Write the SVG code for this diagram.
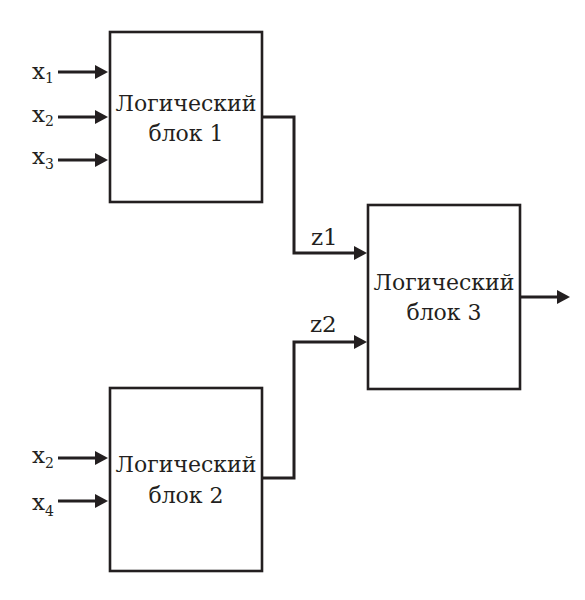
<svg xmlns="http://www.w3.org/2000/svg" width="585" height="600" viewBox="0 0 585 600">
<style>
.blk{fill:#fff;stroke:#231f20;stroke-width:2.6}
.t{font-family:'DejaVu Serif','Noto Serif','Liberation Serif',serif;font-size:22px;fill:#231f20;text-anchor:middle}
.l{font-family:'DejaVu Serif','Noto Serif','Liberation Serif',serif;font-size:23px;fill:#231f20}
.s{font-size:14px}
.c{fill:none;stroke:#231f20;stroke-width:3}
</style>
<defs>
<marker id="ah" markerUnits="userSpaceOnUse" viewBox="0 0 13 14" refX="5" refY="7" markerWidth="13" markerHeight="14" orient="auto">
<path d="M0,0 L13,7 L0,14 z" fill="#231f20"/>
</marker>
</defs>
<rect width="585" height="600" fill="#fff"/>
<g id="connectors">
<path class="c" d="M58,72 H100" marker-end="url(#ah)"/>
<path class="c" d="M58,117 H100" marker-end="url(#ah)"/>
<path class="c" d="M58,160 H100" marker-end="url(#ah)"/>
<path class="c" d="M58,458 H100" marker-end="url(#ah)"/>
<path class="c" d="M58,501 H100" marker-end="url(#ah)"/>
<path class="c" d="M262,117 H294 V253 H359" marker-end="url(#ah)"/>
<path class="c" d="M262,478 H294 V342 H359" marker-end="url(#ah)"/>
<path class="c" d="M520,297 H562" marker-end="url(#ah)"/>
<text class="l" x="311" y="245">z1</text>
<text class="l" x="310" y="332">z2</text>
</g>
<g id="inputs">
<text class="l" x="32" y="79">x<tspan class="s" y="83">1</tspan></text>
<text class="l" x="32" y="122">x<tspan class="s" y="126">2</tspan></text>
<text class="l" x="32" y="164">x<tspan class="s" y="169">3</tspan></text>
<text class="l" x="32" y="463">x<tspan class="s" y="468">2</tspan></text>
<text class="l" x="32" y="510">x<tspan class="s" y="516">4</tspan></text>
</g>
<g id="block1">
<rect class="blk" x="110" y="32" width="152" height="170"/>
<text class="t" x="186" y="111">Логический</text>
<text class="t" x="186" y="141">блок 1</text>
</g>
<g id="block2">
<rect class="blk" x="110" y="388" width="152" height="183"/>
<text class="t" x="186" y="472">Логический</text>
<text class="t" x="186" y="503">блок 2</text>
</g>
<g id="block3">
<rect class="blk" x="368" y="205" width="152" height="184"/>
<text class="t" x="444" y="290">Логический</text>
<text class="t" x="444" y="320">блок 3</text>
</g>
</svg>
